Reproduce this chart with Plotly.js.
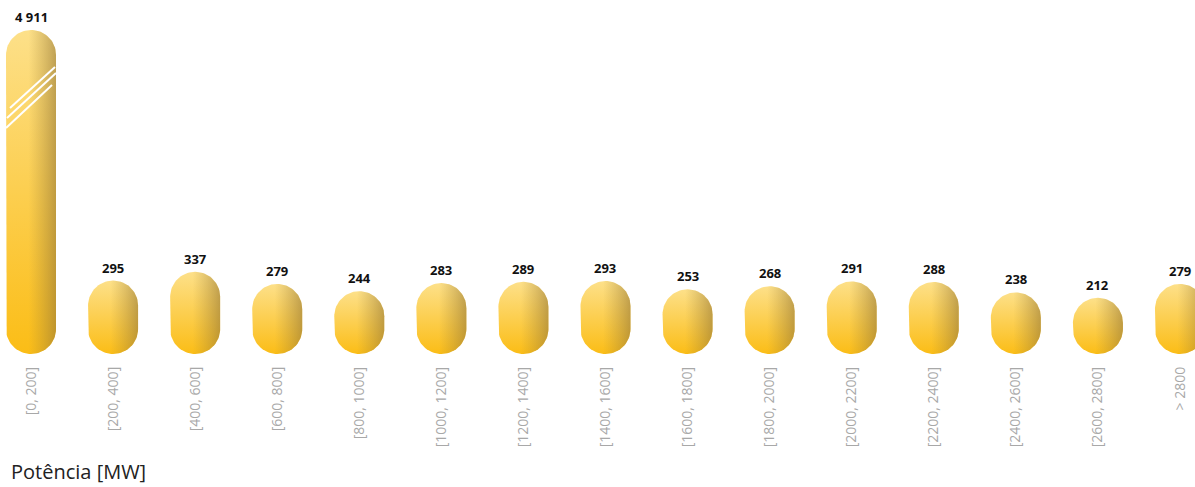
<!DOCTYPE html>
<html>
<head>
<meta charset="utf-8">
<script src="https://cdn.plot.ly/plotly-3.0.1.min.js"></script>
<style>html,body{margin:0;padding:0;background:#fff;}#chart{width:1195px;height:487px;}</style>
</head>
<body>
<div id="chart"></div>
<script>
// ---- data ----
const categories = ['[0, 200]', '[200, 400]', '[400, 600]', '[600, 800]', '[800, 1000]', '[1000, 1200]', '[1200, 1400]', '[1400, 1600]', '[1600, 1800]', '[1800, 2000]', '[2000, 2200]', '[2200, 2400]', '[2400, 2600]', '[2600, 2800]', '> 2800'];
const values = [4911, 295, 337, 279, 244, 283, 289, 293, 253, 268, 291, 288, 238, 212, 279];
const brokenCap = 1500;        // drawn height of the broken (axis-break) bar
const axisTitle = 'Potência [MW]';

// ---- layout geometry ----
const W = 1195, H = 487;
const margin = {l: 0, r: 0, t: 0, b: 133};
const plotW = W - margin.l - margin.r, plotH = H - margin.t - margin.b;
const barStep = 82.07, firstCenterPx = 31, barPxW = 50, yPxPerUnit = 0.208;
const X0 = -firstCenterPx / barStep, X1 = X0 + plotW / barStep;
const Y0 = -58, Y1 = Y0 + plotH / yPxPerUnit;
const pxX = plotW / (X1 - X0), pxY = plotH / (Y1 - Y0);
const hw = (barPxW / 2) / pxX, ry = (barPxW / 2) / pxY;

function fmt(v) { return String(v).replace(/\B(?=(\d{3})+(?!\d))/g, ' '); }

function pill(cx, top) {
  const xs = [], ys = [], N = 40;
  for (let k = 0; k <= N; k++) { const a = Math.PI * k / N; xs.push(cx + hw * Math.cos(a)); ys.push(top - ry + ry * Math.sin(a)); }
  for (let k = 0; k <= N; k++) { const a = Math.PI + Math.PI * k / N; xs.push(cx + hw * Math.cos(a)); ys.push(Y0 + ry + ry * Math.sin(a)); }
  xs.push(xs[0]); ys.push(ys[0]);
  return {xs, ys};
}

const traces = [], annotations = [], shapes = [];
values.forEach((v, i) => {
  const top = Math.min(v, brokenCap);
  const p = pill(i, top);
  traces.push({
    type: 'scatter', mode: 'lines', x: p.xs, y: p.ys, fill: 'toself',
    line: {width: 0, color: 'rgba(0,0,0,0)'}, hoverinfo: 'skip', showlegend: false,
    fillgradient: {type: 'vertical', colorscale: [[0, '#fbbd16'], [1, '#fde089']]}
  });
  traces.push({
    type: 'scatter', mode: 'lines', x: p.xs, y: p.ys, fill: 'toself',
    line: {width: 0, color: 'rgba(0,0,0,0)'}, hoverinfo: 'skip', showlegend: false,
    fillgradient: {type: 'horizontal', colorscale: [[0, 'rgba(170,140,60,0)'], [0.45, 'rgba(170,140,60,0)'], [1, 'rgba(150,120,55,0.6)']]}
  });
  annotations.push({
    x: i, y: top, xref: 'x', yref: 'y', text: '<b>' + fmt(v) + '</b>', showarrow: false,
    yanchor: 'bottom', yshift: 2, font: {family: '"Open Sans", sans-serif', size: 13, color: '#111'}
  });
});

// axis-break marks on the broken bar
const toY = py => Y0 + (plotH - py) / pxY;
const toX = px => X0 + px / pxX;
[[10, 108, 55, 67], [7, 118, 56, 73], [6, 128, 52, 85]].forEach(l => {
  shapes.push({type: 'line', xref: 'x', yref: 'y', x0: toX(l[0]), y0: toY(l[1]), x1: toX(l[2]), y1: toY(l[3]),
    line: {color: '#ffffff', width: 2}});
});

annotations.push({
  xref: 'paper', yref: 'paper', x: 0, y: (plotH - (487 - margin.t)) / plotH, xshift: 9,
  xanchor: 'left', yanchor: 'bottom', showarrow: false, text: axisTitle,
  font: {family: '"Open Sans", sans-serif', size: 20, color: '#222'}
});

const layout = {
  width: W, height: H, margin: margin, paper_bgcolor: '#fff', plot_bgcolor: '#fff',
  showlegend: false,
  xaxis: {range: [X0, X1], tickmode: 'array', tickvals: categories.map((c, i) => i), ticktext: categories,
    tickangle: -90, showgrid: false, zeroline: false, showline: false, ticks: '',
    ticklabelstandoff: 9, tickfont: {family: '"Open Sans", sans-serif', size: 14, color: '#a8a8a8'}, fixedrange: true},
  yaxis: {range: [Y0, Y1], visible: false, showgrid: false, zeroline: false, fixedrange: true},
  annotations: annotations, shapes: shapes
};

Plotly.newPlot('chart', traces, layout, {displayModeBar: false, staticPlot: true});
</script>
</body>
</html>
